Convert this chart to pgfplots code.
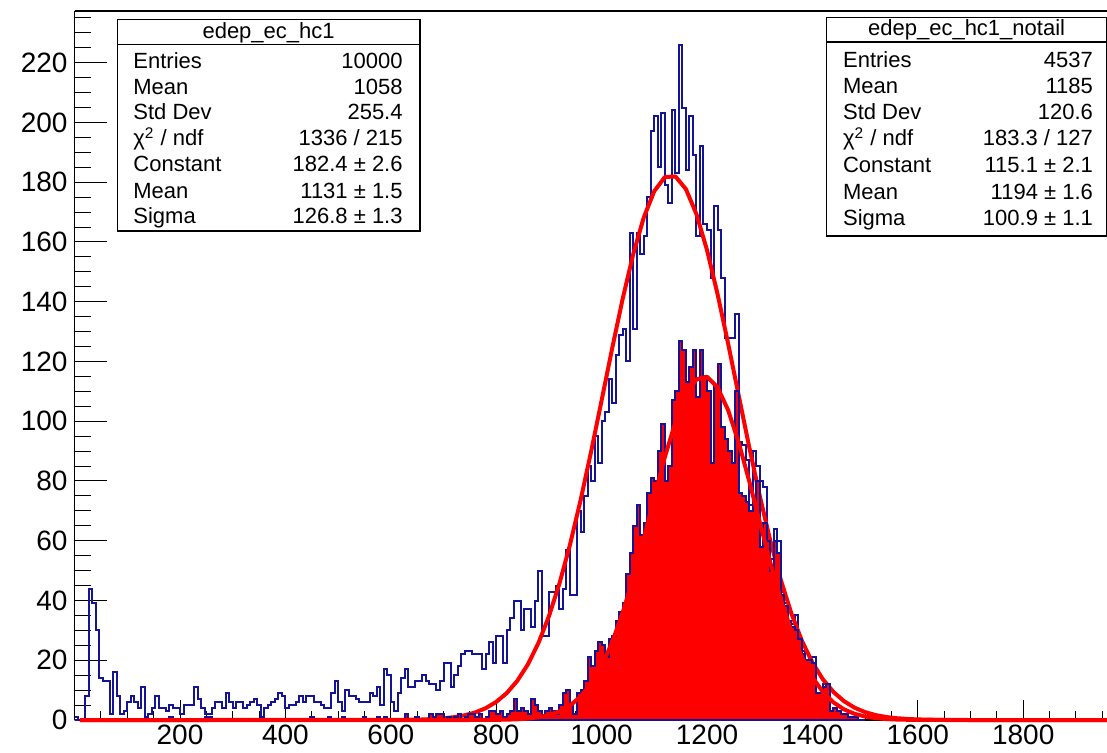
\documentclass[border=0pt]{standalone}
\usepackage{fontspec}
\setmainfont{Liberation Sans}
\usepackage{pgfplots}
\usepackage{pgfplotstable}
\pgfplotsset{compat=1.18}

\definecolor{histblue}{RGB}{20,20,150}
\definecolor{fitred}{RGB}{255,0,0}

% bin contents of edep_ec_hc1: bins of width 20/3 starting at 0
\pgfplotstableread[row sep=\\]{
n\\
1\\0\\0\\8\\44\\39\\30\\14\\13\\13\\
2\\16\\8\\2\\3\\6\\8\\6\\4\\11\\
1\\2\\4\\8\\4\\4\\3\\5\\4\\4\\
2\\5\\5\\5\\11\\7\\4\\2\\2\\4\\
6\\6\\4\\9\\6\\4\\6\\6\\4\\5\\
6\\7\\5\\1\\4\\5\\6\\7\\9\\8\\
4\\5\\5\\6\\8\\6\\8\\8\\6\\6\\
5\\4\\4\\9\\13\\6\\3\\10\\8\\8\\
7\\6\\6\\6\\9\\8\\11\\5\\17\\15\\
6\\3\\9\\14\\17\\11\\11\\13\\13\\15\\
13\\12\\12\\10\\13\\19\\19\\11\\15\\18\\
22\\23\\23\\22\\22\\22\\17\\22\\26\\19\\
28\\28\\19\\30\\34\\40\\40\\30\\37\\37\\
31\\40\\50\\28\\28\\43\\43\\45\\37\\44\\
57\\42\\42\\70\\63\\75\\85\\80\\95\\86\\
100\\103\\114\\106\\122\\129\\131\\120\\163\\131\\
163\\156\\162\\175\\197\\202\\185\\203\\179\\173\\
204\\183\\226\\205\\184\\202\\189\\162\\192\\166\\
164\\148\\172\\164\\148\\128\\128\\128\\136\\93\\
92\\87\\72\\90\\85\\80\\78\\62\\54\\64\\
60\\43\\39\\33\\32\\35\\27\\23\\20\\21\\
21\\9\\9\\12\\12\\3\\4\\3\\2\\2\\
1\\1\\1\\0\\0\\0\\
}\hcone

% bin contents of edep_ec_hc1_notail, same binning
\pgfplotstableread[row sep=\\]{
n\\
0\\0\\0\\0\\0\\0\\0\\0\\0\\0\\
0\\0\\0\\0\\0\\0\\0\\0\\0\\0\\
0\\0\\0\\0\\0\\0\\0\\1\\0\\0\\
0\\0\\0\\0\\0\\0\\0\\1\\1\\0\\
0\\0\\0\\0\\0\\0\\0\\0\\0\\0\\
0\\0\\0\\1\\0\\0\\0\\0\\0\\0\\
0\\0\\0\\0\\0\\0\\0\\1\\0\\0\\
0\\0\\1\\0\\0\\0\\1\\0\\0\\0\\
0\\0\\1\\0\\0\\0\\1\\0\\1\\0\\
0\\0\\0\\0\\2\\0\\0\\1\\0\\0\\
0\\2\\1\\2\\2\\0\\1\\0\\1\\2\\
0\\1\\2\\2\\1\\2\\0\\1\\3\\3\\
2\\3\\1\\2\\3\\7\\3\\4\\3\\2\\
7\\5\\3\\1\\3\\4\\3\\2\\5\\9\\
10\\5\\2\\9\\10\\13\\21\\18\\23\\26\\
25\\21\\27\\28\\33\\36\\39\\49\\56\\65\\
72\\62\\66\\76\\81\\80\\90\\99\\80\\85\\
107\\110\\127\\124\\113\\118\\124\\108\\124\\115\\
110\\86\\112\\119\\98\\94\\90\\86\\110\\76\\
75\\73\\70\\72\\80\\58\\66\\60\\50\\60\\
56\\42\\38\\33\\31\\30\\27\\22\\20\\20\\
19\\9\\9\\11\\12\\3\\4\\3\\2\\2\\
1\\1\\1\\0\\0\\0\\
}\notail

\begin{document}
\begin{tikzpicture}
\begin{axis}[
  name=ax, at={(0,0)}, anchor=south west,
  scale only axis, width=516.2pt, height=354.5pt,
  xmin=0, xmax=1959, ymin=0, ymax=237.3,
  clip=false,
  axis x line*=box, axis y line*=left,
  axis line style={line width=0.8pt, -},
  tick pos=left, tick align=inside,
  tick style={black, line width=0.5pt},
  xtick style={/pgfplots/major tick length=10pt, /pgfplots/minor tick length=4.7pt},
  ytick style={/pgfplots/major tick length=16pt, /pgfplots/minor tick length=8pt},
  xtick={0,200,400,600,800,1000,1200,1400,1600,1800},
  xticklabels={{},200,400,600,800,1000,1200,1400,1600,1800},
  minor xtick={50,100,150,250,300,350,450,500,550,650,700,750,850,900,950,1050,1100,1150,1250,1300,1350,1450,1500,1550,1650,1700,1750,1850,1900,1950},
  ytick={0,20,40,60,80,100,120,140,160,180,200,220},
  yticklabels={0,20,40,60,80,100,120,140,160,180,200,220},
  minor ytick={5,10,15,25,30,35,45,50,55,65,70,75,85,90,95,105,110,115,125,130,135,145,150,155,165,170,175,185,190,195,205,210,215,225,230,235},
  tick label style={font=\fontsize{14}{16}\selectfont},
  xticklabel style={inner sep=0.25em},
]
% full sample
\addplot[const plot mark left, draw=histblue, line width=1pt]
  table[x expr=\coordindex*20/3, y=n] {\hcone};
% gaussian fit: Constant 182.4, Mean 1131, Sigma 126.8
\addplot[fitred, line width=2pt, line join=round] coordinates {
(10,0) (580,0.01) (600,0.03) (620,0.05) (640,0.10) (660,0.18) (680,0.33)
(700,0.57) (720,0.95) (740,1.57) (760,2.52) (780,3.96) (800,6.05) (820,9.01)
(840,13.10) (860,18.59) (880,25.72) (900,34.71) (920,45.69) (940,58.66)
(960,73.47) (980,89.76) (1000,106.96) (1020,124.34) (1040,141.00)
(1060,155.93) (1080,168.20) (1100,177.03) (1120,181.71) (1140,181.94)
(1160,177.69) (1180,169.28) (1200,157.30) (1220,142.57) (1240,126.05)
(1260,108.71) (1280,91.45) (1300,75.04) (1320,60.06) (1340,46.90)
(1360,35.71) (1380,26.53) (1400,19.22) (1420,13.59) (1440,9.37)
(1460,6.30) (1480,4.13) (1500,2.64) (1520,1.65) (1540,1.00) (1560,0.60)
(1580,0.35) (1600,0.20) (1620,0.11) (1640,0.06) (1660,0.03) (1700,0)
(1959,0)};
% tail-free sample, filled
\addplot[const plot mark left, draw=histblue, fill=fitred, line width=1pt]
  table[x expr=\coordindex*20/3, y=n] {\notail} \closedcycle;
% gaussian fit: Constant 115.1, Mean 1194, Sigma 100.9
\addplot[fitred, line width=2pt, line join=round] coordinates {
(10,0) (740,0) (760,0.01) (780,0.03) (800,0.06) (820,0.12) (840,0.24)
(860,0.48) (880,0.91) (900,1.65) (920,2.88) (940,4.84) (960,7.82)
(980,12.14) (1000,18.13) (1020,26.02) (1040,35.91) (1060,47.65)
(1080,60.79) (1100,74.58) (1120,87.96) (1140,99.74) (1160,108.75)
(1180,114.00) (1200,114.90) (1220,111.34) (1240,103.74) (1260,92.93)
(1280,80.04) (1300,66.29) (1320,52.78) (1340,40.41) (1360,29.74)
(1380,21.05) (1400,14.32) (1420,9.37) (1440,5.89) (1460,3.56)
(1480,2.07) (1500,1.16) (1520,0.62) (1540,0.32) (1560,0.16) (1580,0.08)
(1600,0.04) (1620,0.02) (1660,0) (1959,0)};
\end{axis}

% statistics boxes, laid out on a 1107 x 752 grid with the origin at top left
\begin{scope}[x=0.5pt, y=-0.5pt, shift={(-74.6,-720)},
  every node/.style={font=\fontsize{11}{13}\selectfont, inner sep=0pt}]
  \filldraw[fill=white, draw=black, line width=0.6pt] (117.3,19.3) rectangle (420,231);
  \draw[line width=0.6pt] (117.3,44.5) -- (420,44.5);
  \node[anchor=center] at (268.6,32.5) {edep\_ec\_hc1};
  \foreach \lab/\val/\yy in {Entries/10000/63, Mean/1058/89, {Std Dev}/255.4/114.5,
      {χ\textsuperscript{2} / ndf}/{1336 / 215}/140.5, Constant/{182.4 ± 2.6}/166.5,
      Mean/{1131 ± 1.5}/193, Sigma/{126.8 ± 1.3}/218.5}{
    \node[anchor=west] at (133,\yy) {\strut\lab};
    \node[anchor=east] at (403,\yy) {\strut\val};
  }
  \filldraw[fill=white, draw=black, line width=0.6pt] (826.7,17.5) rectangle (1106.5,236);
  \draw[line width=0.6pt] (826.7,42) -- (1106.5,42);
  \node[anchor=center] at (966.6,30) {edep\_ec\_hc1\_notail};
  \foreach \lab/\val/\yy in {Entries/4537/62.5, Mean/1185/88.5, {Std Dev}/120.6/114.5,
      {χ\textsuperscript{2} / ndf}/{183.3 / 127}/140.5, Constant/{115.1 ± 2.1}/167.5,
      Mean/{1194 ± 1.6}/194.5, Sigma/{100.9 ± 1.1}/220.5}{
    \node[anchor=west] at (842.7,\yy) {\strut\lab};
    \node[anchor=east] at (1093.3,\yy) {\strut\val};
  }
  \pgfresetboundingbox
  \path[use as bounding box] (0,0) rectangle (1107,752);
\end{scope}
\end{tikzpicture}
\end{document}
